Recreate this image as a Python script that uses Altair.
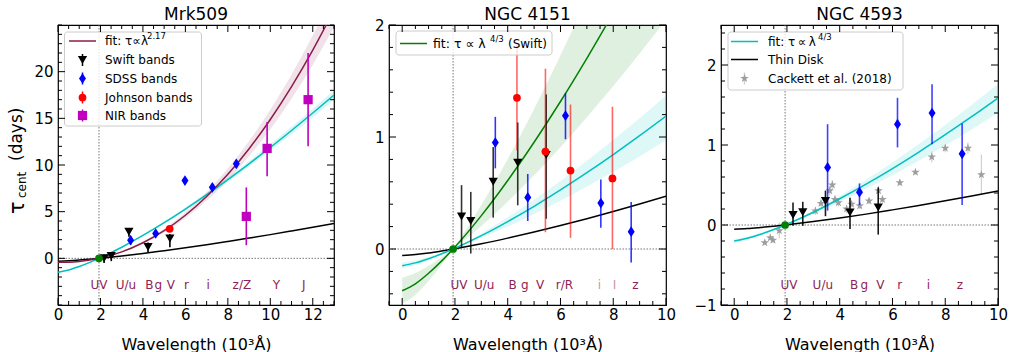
import altair as alt
import pandas as pd

FONT = "DejaVu Sans"
MAROON = "#8b1c4a"
LABEL_C = "#8e2454"
CYAN = "#00bfbf"
GREEN = "#008000"
BLUE = "#0000ff"
RED = "#ff0000"
MAGENTA = "#bf00bf"
STAR_C = "#9e9e9e"
THIN_DIAMOND = "M0,-1L0.65,0L0,1L-0.65,0Z"
STAR = ("M0,-1L0.235,-0.324L0.951,-0.309L0.38,0.124L0.588,0.809L0,0.4"
        "L-0.588,0.809L-0.38,0.124L-0.951,-0.309L-0.235,-0.324Z")

UV_LAM = [1.93]
UV_TAU = [0.0]
X_TITLE = "Wavelength (10³Å)"

# ---------------- Mrk509 ----------------
p1_title = "Mrk509"
p1_xticks = [0, 2, 4, 6, 8, 10, 12]
p1_yticks = [0, 5, 10, 15, 20]
p1_grid = [0, 0.5, 1, 1.5, 2, 3, 4, 5, 6, 7, 8, 9, 10, 11, 12, 13]
p1_fit = [-0.43, -0.41, -0.33, -0.18, 0.04, 0.69, 1.67, 2.97, 4.62, 6.63, 9.00, 11.75, 14.88, 18.40, 22.31, 26.62]
p1_fit_lo = [-0.40, -0.38, -0.31, -0.17, 0.03, 0.64, 1.55, 2.76, 4.30, 6.17, 8.37, 10.93, 13.84, 17.11, 20.75, 24.76]
p1_fit_hi = [-0.46, -0.44, -0.35, -0.19, 0.04, 0.74, 1.78, 3.18, 4.94, 7.09, 9.63, 12.57, 15.92, 19.69, 23.87, 28.48]
p1_cyan = [-1.49, -1.25, -0.87, -0.43, 0.07, 1.19, 2.45, 3.82, 5.28, 6.82, 8.44, 10.13, 11.88, 13.70, 15.57, 17.49]
p1_cyan_lo = [-1.45, -1.21, -0.84, -0.41, 0.07, 1.15, 2.38, 3.71, 5.12, 6.62, 8.19, 9.83, 11.52, 13.29, 15.10, 16.97]
p1_cyan_hi = [-1.53, -1.28, -0.90, -0.44, 0.08, 1.23, 2.52, 3.93, 5.44, 7.02, 8.69, 10.43, 12.24, 14.11, 16.04, 18.01]
p1_disk = [-0.32, -0.27, -0.19, -0.09, 0.02, 0.26, 0.52, 0.82, 1.13, 1.46, 1.81, 2.17, 2.54, 2.93, 3.33, 3.74]

p1_swift_lam = [2.17, 2.51, 3.34, 4.24, 5.27]
p1_swift_tau = [0.0, 0.25, 2.84, 1.22, 2.12]
p1_swift_lo = [-0.5, -0.3, 2.3, 0.6, 1.2]
p1_swift_hi = [0.4, 0.6, 3.1, 1.7, 2.6]
p1_sdss_lam = [3.42, 4.60, 5.98, 7.27, 8.40]
p1_sdss_tau = [1.94, 2.66, 8.33, 7.61, 10.13]
p1_sdss_lo = [1.45, 2.3, 7.95, 7.2, 9.7]
p1_sdss_hi = [2.4, 3.0, 8.7, 8.0, 10.55]
p1_john_lam = [5.26]
p1_john_tau = [3.16]
p1_john_lo = [2.85]
p1_john_hi = [3.45]
p1_nir_lam = [8.87, 9.85, 11.78]
p1_nir_tau = [4.49, 11.78, 17.0]
p1_nir_lo = [1.4, 8.8, 12.0]
p1_nir_hi = [7.6, 14.6, 22.0]
p1_band_labels = ["UV", "U/u", "B", "g", "V", "r", "i", "z/Z", "Y", "J"]
p1_band_lam = [1.93, 3.2, 4.3, 4.72, 5.32, 6.05, 7.07, 8.66, 10.29, 11.58]
p1_legend = ["Swift bands", "SDSS bands", "Johnson bands", "NIR bands"]

# ---------------- NGC 4151 ----------------
p2_title = "NGC 4151"
p2_xticks = [0, 2, 4, 6, 8, 10]
p2_yticks = [0, 1, 2]
p2_grid = [0, 0.5, 1, 1.5, 2, 3, 4, 5, 6, 7, 8, 9, 10]
p2_fit = [-0.373, -0.311, -0.217, -0.106, 0.018, 0.298, 0.612, 0.953, 1.317, 1.703, 2.108, 2.529, 2.966]
p2_fit_lo = [-0.257, -0.215, -0.150, -0.073, 0.013, 0.206, 0.422, 0.658, 0.909, 1.176, 1.455, 1.746, 2.048]
p2_fit_hi = [-0.489, -0.408, -0.286, -0.140, 0.024, 0.392, 0.803, 1.251, 1.729, 2.236, 2.767, 3.321, 3.894]
p2_cyan = [-0.149, -0.124, -0.087, -0.043, 0.007, 0.119, 0.245, 0.381, 0.527, 0.681, 0.843, 1.012, 1.187]
p2_cyan_lo = [-0.122, -0.102, -0.071, -0.035, 0.006, 0.098, 0.200, 0.312, 0.431, 0.557, 0.689, 0.827, 0.970]
p2_cyan_hi = [-0.172, -0.144, -0.100, -0.049, 0.008, 0.138, 0.283, 0.440, 0.608, 0.787, 0.974, 1.168, 1.370]
p2_disk = [-0.059, -0.049, -0.035, -0.017, 0.003, 0.047, 0.097, 0.151, 0.209, 0.270, 0.334, 0.401, 0.471]

p2_swift_lam = [2.25, 2.60, 3.45, 4.38, 5.46]
p2_swift_tau = [0.29, 0.25, 0.60, 0.77, 0.84]
p2_swift_lo = [0.01, -0.04, 0.28, 0.39, 0.27]
p2_swift_hi = [0.57, 0.51, 0.91, 1.13, 1.38]
p2_sdss_lam = [3.53, 4.76, 6.19, 7.53, 8.68]
p2_sdss_tau = [0.95, 0.46, 1.19, 0.41, 0.155]
p2_sdss_lo = [0.72, 0.25, 0.98, 0.19, -0.12]
p2_sdss_hi = [1.18, 0.67, 1.39, 0.62, 0.42]
p2_john_lam = [4.35, 5.43, 6.38, 7.97]
p2_john_tau = [1.35, 0.87, 0.70, 0.63]
p2_john_lo = [0.88, 0.15, 0.10, 0.0]
p2_john_hi = [1.84, 1.61, 1.29, 1.27]
p2_band_labels = ["UV", "U/u", "B", "g", "V", "r/R", "i", "I", "z"]
p2_band_lam = [2.15, 3.11, 4.19, 4.65, 5.23, 6.15, 7.48, 8.05, 8.84]
p2_band_faded = ["i", "I"]

# ---------------- NGC 4593 ----------------
p3_title = "NGC 4593"
p3_xticks = [0, 2, 4, 6, 8, 10]
p3_yticks = [-1, 0, 1, 2]
p3_grid = [0, 0.5, 1, 1.5, 2, 3, 4, 5, 6, 7, 8, 9, 10]
p3_cyan = [-0.199, -0.166, -0.116, -0.057, 0.010, 0.160, 0.328, 0.510, 0.705, 0.912, 1.129, 1.354, 1.588]
p3_cyan_lo = [-0.176, -0.147, -0.103, -0.050, 0.009, 0.141, 0.289, 0.450, 0.622, 0.804, 0.995, 1.194, 1.401]
p3_cyan_hi = [-0.221, -0.185, -0.129, -0.063, 0.011, 0.177, 0.363, 0.566, 0.782, 1.011, 1.251, 1.501, 1.761]
p3_disk = [-0.053, -0.045, -0.031, -0.015, 0.003, 0.043, 0.088, 0.136, 0.189, 0.244, 0.302, 0.362, 0.425]

p3_swift_lam = [2.23, 2.60, 3.46, 4.39, 5.46]
p3_swift_tau = [0.125, 0.16, 0.30, 0.155, 0.22]
p3_swift_lo = [-0.01, -0.01, 0.11, -0.05, -0.12]
p3_swift_hi = [0.28, 0.29, 0.43, 0.34, 0.47]
p3_sdss_lam = [3.54, 4.75, 6.19, 7.50, 8.64]
p3_sdss_tau = [0.72, 0.41, 1.26, 1.40, 0.89]
p3_sdss_lo = [0.18, 0.25, 0.97, 1.01, 0.25]
p3_sdss_hi = [1.26, 0.52, 1.59, 1.76, 1.27]
p3_cack_lam = [1.16, 1.37, 1.47, 1.71, 3.08, 3.29, 3.62, 3.72, 3.82, 3.95, 4.26,
               4.45, 4.76, 5.11, 5.47, 5.62, 6.28, 6.87, 7.49, 8.00, 8.86, 9.37]
p3_cack_tau = [-0.22, -0.16, -0.19, -0.07, 0.175, 0.27, 0.43, 0.50, 0.32, 0.28, 0.20,
               0.26, 0.24, 0.30, 0.43, 0.32, 0.53, 0.66, 0.85, 0.96, 0.96, 0.63]
p3_cack_err = [0.03, 0.03, 0.03, 0.10, 0.05, 0.04, 0.06, 0.06, 0.05, 0.05, 0.05,
               0.04, 0.04, 0.04, 0.06, 0.05, 0.04, 0.03, 0.07, 0.05, 0.07, 0.25]
p3_band_labels = ["UV", "U/u", "B", "g", "V", "r", "i", "z"]
p3_band_lam = [2.08, 3.36, 4.55, 4.93, 5.54, 6.27, 7.36, 8.56]
p3_legend = ["Thin Disk", "Cackett et al. (2018)"]

ONE = pd.DataFrame({"k": [0]})

TRI = 85
DIA = 115
CIRC = 60
SQ = 85
STAR_S = 80


def minor_ticks(lo, hi, step, major):
    n = int(round((hi - lo) / step))
    vals = [round(lo + i * step, 6) for i in range(n + 1)]
    return [v for v in vals if v not in major]


class Panel:
    def __init__(self, xdom, ydom, xticks, yticks):
        self.xs = alt.Scale(domain=xdom, nice=False, zero=False)
        self.ys = alt.Scale(domain=ydom, nice=False, zero=False)
        common = dict(ticks=False, tickSize=0, domain=False, grid=False, labelFontSize=15,
                      labelColor="black", labelFont=FONT, labelFlush=False,
                      labelOverlap=False)
        self.xa = alt.Axis(values=xticks, title=X_TITLE, labelPadding=2, titleFontSize=16,
                           titleFontWeight="normal", titleColor="black", titleFont=FONT,
                           titlePadding=14, **common)
        self.ya = alt.Axis(values=yticks, title=None, labelPadding=5, **common)

    def x(self, field):
        return alt.X(field, scale=self.xs, axis=self.xa)

    def y(self, field):
        return alt.Y(field, scale=self.ys, axis=self.ya)


def curve(P, grid, vals, color, width=1.5):
    d = pd.DataFrame({"lam": grid, "tau": vals})
    return alt.Chart(d).mark_line(color=color, strokeWidth=width, clip=True,
                                  interpolate="monotone").encode(
        x=P.x("lam:Q"), y=P.y("tau:Q"))


def band(P, grid, lo, hi, color, opacity):
    d = pd.DataFrame({"lam": grid, "lo": lo, "hi": hi})
    return alt.Chart(d).mark_area(color=color, opacity=opacity, clip=True,
                                  interpolate="monotone").encode(
        x=P.x("lam:Q"), y=P.y("lo:Q"), y2="hi:Q")


def errbars(P, lam, lo, hi, color, opacity=1.0, width=1.6):
    d = pd.DataFrame({"lam": lam, "lo": lo, "hi": hi})
    return alt.Chart(d).mark_rule(color=color, strokeWidth=width, opacity=opacity,
                                  clip=True).encode(
        x=P.x("lam:Q"), y=P.y("lo:Q"), y2="hi:Q")


def points(P, lam, tau, color, shape, size):
    d = pd.DataFrame({"lam": lam, "tau": tau})
    return alt.Chart(d).mark_point(shape=shape, filled=True, color=color, size=size,
                                   opacity=1, clip=True).encode(
        x=P.x("lam:Q"), y=P.y("tau:Q"))


def ref_lines(P):
    dv = pd.DataFrame({"lam": UV_LAM})
    dh = pd.DataFrame({"tau": UV_TAU})
    style = dict(color="#666666", strokeWidth=0.9, strokeDash=[1.5, 1.5])
    return [
        alt.Chart(dv).mark_rule(**style).encode(x=P.x("lam:Q")),
        alt.Chart(dh).mark_rule(**style).encode(y=P.y("tau:Q")),
    ]


def tick_layers(P, W, H, xmaj, xmin, ymaj, ymin):
    out = []
    for vals, L in ((xmaj, 7), (xmin, 4)):
        d = pd.DataFrame({"v": vals})
        base = alt.Chart(d).mark_rule(color="black", strokeWidth=1)
        out.append(base.encode(x=P.x("v:Q"), y=alt.value(H), y2=alt.value(H - L)))
        out.append(base.encode(x=P.x("v:Q"), y=alt.value(0), y2=alt.value(L)))
    for vals, L in ((ymaj, 7), (ymin, 4)):
        d = pd.DataFrame({"v": vals})
        base = alt.Chart(d).mark_rule(color="black", strokeWidth=1)
        out.append(base.encode(y=P.y("v:Q"), x=alt.value(0), x2=alt.value(L)))
        out.append(base.encode(y=P.y("v:Q"), x=alt.value(W), x2=alt.value(W - L)))
    return out


def band_labels(P, labels, lams, faded=None):
    d = pd.DataFrame({"label": labels, "lam": lams})
    enc = dict(x=P.x("lam:Q"), y=alt.value(260), text="label:N")
    if faded:
        enc["opacity"] = alt.condition(alt.FieldOneOfPredicate(field="label", oneOf=faded),
                                       alt.value(0.5), alt.value(1.0))
    return alt.Chart(d).mark_text(color=LABEL_C, fontSize=12, font=FONT, align="center",
                                  baseline="middle").encode(**enc)


def txt(s, x, y, size=12, color="black", align="left", baseline="middle", angle=0):
    kw = dict(text=s, fontSize=size, font=FONT, color=color, align=align, baseline=baseline)
    if angle:
        kw["angle"] = angle
    return alt.Chart(ONE).mark_text(**kw).encode(x=alt.value(x), y=alt.value(y))


def leg_box(x1, x2, y1, y2):
    return alt.Chart(ONE).mark_rect(fill="white", fillOpacity=0.8, stroke="#cccccc",
                                    strokeWidth=1, cornerRadius=3).encode(
        x=alt.value(x1), x2=alt.value(x2), y=alt.value(y1), y2=alt.value(y2))


def leg_line(x1, x2, y, color):
    return alt.Chart(ONE).mark_rule(color=color, strokeWidth=1.5).encode(
        x=alt.value(x1), x2=alt.value(x2), y=alt.value(y))


def leg_sym(x, y, color, shape, size, bar=6, bar_color=None):
    out = [alt.Chart(ONE).mark_rule(color=bar_color or color, strokeWidth=1.5).encode(
        x=alt.value(x), y=alt.value(y - bar), y2=alt.value(y + bar))]
    out.append(alt.Chart(ONE).mark_point(shape=shape, filled=True, color=color, size=size,
                                         opacity=1).encode(x=alt.value(x), y=alt.value(y)))
    return out


def title_mark(s, W):
    return txt(s, W / 2, -5, size=17, align="center", baseline="alphabetic")


H = 280

# ---------------- panel 1 ----------------
W1 = 276
P1 = Panel([0, 13], [-5, 25], p1_xticks, p1_yticks)
layers1 = [
    band(P1, p1_grid, p1_fit_lo, p1_fit_hi, MAROON, 0.13),
    band(P1, p1_grid, p1_cyan_lo, p1_cyan_hi, CYAN, 0.15),
    *ref_lines(P1),
    curve(P1, p1_grid, p1_disk, "black"),
    curve(P1, p1_grid, p1_cyan, CYAN),
    curve(P1, p1_grid, p1_fit, MAROON),
    errbars(P1, p1_swift_lam, p1_swift_lo, p1_swift_hi, "black"),
    errbars(P1, p1_sdss_lam, p1_sdss_lo, p1_sdss_hi, BLUE),
    errbars(P1, p1_john_lam, p1_john_lo, p1_john_hi, RED),
    errbars(P1, p1_nir_lam, p1_nir_lo, p1_nir_hi, MAGENTA),
    points(P1, p1_swift_lam, p1_swift_tau, "black", "triangle-down", TRI),
    points(P1, p1_sdss_lam, p1_sdss_tau, BLUE, THIN_DIAMOND, DIA),
    points(P1, p1_john_lam, p1_john_tau, RED, "circle", CIRC),
    points(P1, p1_nir_lam, p1_nir_tau, MAGENTA, "square", SQ),
    points(P1, UV_LAM, UV_TAU, GREEN, "circle", CIRC),
    band_labels(P1, p1_band_labels, p1_band_lam),
    leg_box(6.5, 143.5, 7, 101),
    leg_line(11, 38, 16, MAROON),
    txt("fit: τ∝λ", 47, 16),
    txt("2.17", 89, 11, size=8.5),
    *leg_sym(24.5, 35, "black", "triangle-down", TRI),
    *leg_sym(24.5, 53.5, BLUE, THIN_DIAMOND, DIA),
    *leg_sym(24.5, 72.5, RED, "circle", CIRC),
    *leg_sym(24.5, 90.5, MAGENTA, "square", SQ),
    txt(p1_legend[0], 47, 35),
    txt(p1_legend[1], 47, 53.5),
    txt(p1_legend[2], 47, 72.5),
    txt(p1_legend[3], 47, 90.5),
    # y-axis title: tau_cent (days)
    txt("τ", -34, 189, size=21, baseline="alphabetic", angle=270),
    txt("cent", -32, 173, size=12, baseline="alphabetic", angle=270),
    txt("(days)", -36, 136, size=17, baseline="alphabetic", angle=270),
    *tick_layers(P1, W1, H, p1_xticks, minor_ticks(0, 13, 0.5, p1_xticks),
                 p1_yticks, minor_ticks(-5, 25, 1, p1_yticks)),
    title_mark(p1_title, W1),
    alt.Chart(ONE).mark_rect(opacity=0).encode(x=alt.value(-57), x2=alt.value(-55),
                                               y=alt.value(-24), y2=alt.value(-22)),
]
panel1 = alt.layer(*layers1).properties(width=W1, height=H)

# ---------------- panel 2 ----------------
W2 = 277
P2 = Panel([-0.5, 10], [-0.5, 2], p2_xticks, p2_yticks)
layers2 = [
    band(P2, p2_grid, p2_fit_lo, p2_fit_hi, GREEN, 0.12),
    band(P2, p2_grid, p2_cyan_lo, p2_cyan_hi, CYAN, 0.13),
    *ref_lines(P2),
    curve(P2, p2_grid, p2_disk, "black"),
    curve(P2, p2_grid, p2_cyan, CYAN),
    curve(P2, p2_grid, p2_fit, GREEN),
    errbars(P2, p2_swift_lam, p2_swift_lo, p2_swift_hi, "black", 0.8),
    errbars(P2, p2_sdss_lam, p2_sdss_lo, p2_sdss_hi, BLUE, 0.8),
    errbars(P2, p2_john_lam, p2_john_lo, p2_john_hi, RED, 0.6),
    points(P2, p2_swift_lam, p2_swift_tau, "black", "triangle-down", TRI),
    points(P2, p2_sdss_lam, p2_sdss_tau, BLUE, THIN_DIAMOND, DIA),
    points(P2, p2_john_lam, p2_john_tau, RED, "circle", CIRC),
    points(P2, UV_LAM, UV_TAU, GREEN, "circle", CIRC),
    band_labels(P2, p2_band_labels, p2_band_lam, faded=p2_band_faded),
    leg_box(7, 163, 6, 30),
    leg_line(11, 38, 18.5, GREEN),
    txt("fit: τ ∝ λ", 44, 18.5, size=12.5),
    txt("4/3", 101, 13.5, size=8.5),
    txt("(Swift)", 119, 18.5),
    *tick_layers(P2, W2, H, p2_xticks, minor_ticks(-0.5, 10, 0.5, p2_xticks),
                 p2_yticks, minor_ticks(-0.4, 2, 0.2, p2_yticks)),
    title_mark(p2_title, W2),
]
panel2 = alt.layer(*layers2).properties(width=W2, height=H)

# ---------------- panel 3 ----------------
W3 = 277
P3 = Panel([-0.5, 10], [-1, 2.5], p3_xticks, p3_yticks)
cack_lo = [t - e for t, e in zip(p3_cack_tau, p3_cack_err)]
cack_hi = [t + e for t, e in zip(p3_cack_tau, p3_cack_err)]
layers3 = [
    band(P3, p3_grid, p3_cyan_lo, p3_cyan_hi, CYAN, 0.13),
    *ref_lines(P3),
    errbars(P3, p3_cack_lam, cack_lo, cack_hi, "#d0d0d0", 1.0, 1.2),
    points(P3, p3_cack_lam, p3_cack_tau, STAR_C, STAR, STAR_S),
    curve(P3, p3_grid, p3_disk, "black"),
    curve(P3, p3_grid, p3_cyan, CYAN),
    errbars(P3, p3_swift_lam, p3_swift_lo, p3_swift_hi, "black", 0.9),
    errbars(P3, p3_sdss_lam, p3_sdss_lo, p3_sdss_hi, BLUE, 0.75),
    points(P3, p3_swift_lam, p3_swift_tau, "black", "triangle-down", TRI),
    points(P3, p3_sdss_lam, p3_sdss_tau, BLUE, THIN_DIAMOND, DIA),
    points(P3, UV_LAM, UV_TAU, GREEN, "circle", CIRC),
    band_labels(P3, p3_band_labels, p3_band_lam),
    leg_box(7, 182, 7, 65),
    leg_line(10, 37, 16.5, CYAN),
    leg_line(10, 37, 34.5, "black"),
    *leg_sym(23.5, 53.5, STAR_C, STAR, STAR_S, bar_color="#d0d0d0"),
    txt("fit: τ\u2009∝\u2009λ", 47, 16.5),
    txt("4/3", 97, 11.5, size=8.5),
    txt(p3_legend[0], 47, 34.5),
    txt(p3_legend[1], 47, 53.5),
    *tick_layers(P3, W3, H, p3_xticks, minor_ticks(-0.5, 10, 0.5, p3_xticks),
                 p3_yticks, minor_ticks(-1, 2.4, 0.2, p3_yticks)),
    title_mark(p3_title, W3),
]
panel3 = alt.layer(*layers3).properties(width=W3, height=H)

chart = alt.hconcat(panel1, panel2, panel3, spacing=55, bounds="flush",
                    padding={"left": 0, "top": 0, "right": 0, "bottom": 0}).configure(
    font=FONT).configure_view(stroke="black", strokeWidth=1.2)

chart.save("out.html", embed_options={"renderer": "svg", "actions": False})
